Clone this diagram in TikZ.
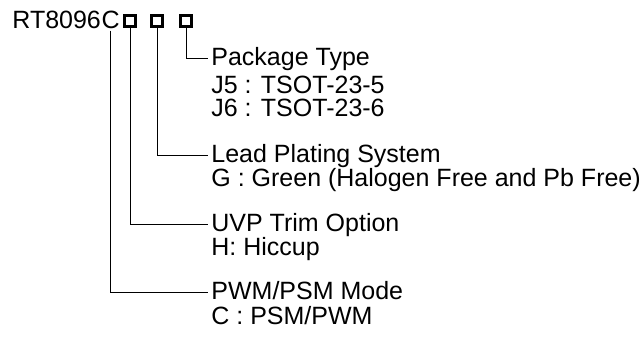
\documentclass[tikz,border=0pt]{standalone}
\usepackage{fontspec}
\setmainfont{Liberation Sans}
\usetikzlibrary{positioning}

\begin{document}
\begin{tikzpicture}[x=0.5pt,y=-0.5pt,
    every node/.style={inner sep=0pt,font=\fontsize{12.5}{15}\selectfont},
    code box/.style={draw,line width=1.7pt,minimum width=5.3pt,minimum height=5.3pt,outer sep=0pt},
    field/.style={anchor=west,inner xsep=1.5pt,text height=0.72em,text depth=0pt},
    choice/.style={anchor=base west}]
  \useasboundingbox (0,0) rectangle (641,338);

  \node[anchor=base west] (Part) at (12,28) {RT8096};
  \node[anchor=base west] (Mode Letter) at (Part.base east) {C};
  \node[code box] (Box A) at (130,21) {};
  \node[code box] (Box B) at (157,21) {};
  \node[code box] (Box C) at (186,21) {};

  \node[field] (Package Type) at (208,58) {Package Type};
  \node[choice] (J5) at (211,93) {J5 : TSOT-23-5};
  \node[choice] (J6) at (211,116) {J6 : TSOT-23-6};

  \node[field] (Lead Plating) at (208,155) {Lead Plating System};
  \node[choice] (Green) at (211,186) {G : Green (Halogen Free and Pb Free)};

  \node[field] (UVP Trim) at (208,224) {UVP Trim Option};
  \node[choice] (Hiccup) at (211,255) {H: Hiccup};

  \node[field] (PWM Mode) at (208,292) {PWM/PSM Mode};
  \node[choice] (PSM) at (211,324) {C : PSM/PWM};

  \draw (Box C.south) |- (Package Type.west);
  \draw (Box B.south) |- (Lead Plating.west);
  \draw (Box A.south) |- (UVP Trim.west);
  \draw[shorten <=1pt] (Mode Letter.south) |- (PWM Mode.west);
\end{tikzpicture}
\end{document}
